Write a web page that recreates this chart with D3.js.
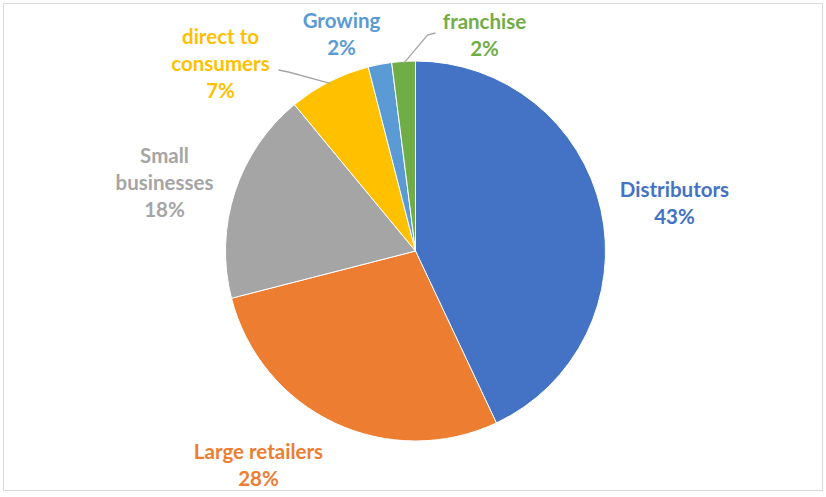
<!DOCTYPE html>
<html>
<head>
<meta charset="utf-8">
<script src="https://cdn.jsdelivr.net/npm/d3@7"></script>
<style>
  html, body { margin: 0; padding: 0; background: #ffffff; }
  svg { display: block; }
  .lbl { font-family: Lato, "Open Sans", sans-serif; font-weight: 700; font-size: 20.5px; }
</style>
</head>
<body>
<svg id="chart" width="826" height="497"></svg>
<script>
// Sales channel shares (percent), clockwise from 12 o'clock
const categories = ["Distributors", "Large retailers", "Small businesses", "direct to consumers", "Growing", "franchise"];
const shares = [43, 28, 18, 7, 2, 2];
const colors = ["#4472C4", "#ED7D31", "#A5A5A5", "#FFC000", "#5B9BD5", "#70AD47"];
// label text broken into lines as shown next to each slice
const labelLines = [
  ["Distributors"],
  ["Large retailers"],
  ["Small", "businesses"],
  ["direct to", "consumers"],
  ["Growing"],
  ["franchise"]
];

const W = 826, H = 497;
const cx = 415.5, cy = 251, R = 190;

const svg = d3.select("#chart");

// outer chart-area frame
svg.append("rect")
  .attr("x", 3.5).attr("y", 3.5)
  .attr("width", W - 7).attr("height", H - 10)
  .attr("fill", "#ffffff")
  .attr("stroke", "#d9d9d9").attr("stroke-width", 1);

const pie = d3.pie().value(d => d).sort(null);
const arcs = pie(shares);
const arc = d3.arc().innerRadius(0).outerRadius(R);

const g = svg.append("g").attr("transform", `translate(${cx},${cy})`);

g.selectAll("path.slice")
  .data(arcs)
  .join("path")
  .attr("class", "slice")
  .attr("d", arc)
  .attr("fill", (d, i) => colors[i])
  .attr("stroke", "#ffffff")
  .attr("stroke-width", 1);

// label anchor offsets (label centre relative to pie centre, in px)
const labelPos = [
  { dx: 259, dy: -61 },   // Distributors
  { dx: -157, dy: 201 },  // Large retailers
  { dx: -251, dy: -95 },  // Small businesses
  { dx: -195, dy: -214 }, // direct to consumers
  { dx: -74, dy: -230 },  // Growing
  { dx: 69, dy: -229 }    // franchise
];
const lineGap = 27;

const labels = svg.append("g");
arcs.forEach((a, i) => {
  const lines = labelLines[i].concat([d3.format(".0f")(a.data) + "%"]);
  const x = cx + labelPos[i].dx;
  const yTop = cy + labelPos[i].dy;
  const t = labels.append("text")
    .attr("class", "lbl")
    .attr("text-anchor", "middle")
    .attr("fill", colors[i]);
  lines.forEach((s, k) => {
    t.append("tspan")
      .attr("x", x)
      .attr("y", yTop + k * lineGap)
      .attr("dy", "0.35em")
      .text(s);
  });
});

// leader lines from the outside labels to the thin slices
function leader(i, pts) {
  const mid = (arcs[i].startAngle + arcs[i].endAngle) / 2;
  const edge = [cx + Math.sin(mid) * (R - 2), cy - Math.cos(mid) * (R - 2)];
  svg.append("path")
    .attr("d", d3.line()(pts.concat([edge])))
    .attr("fill", "none")
    .attr("stroke", "#a6a6a6")
    .attr("stroke-width", 1.3);
}
leader(3, [[cx - 137, cy - 181], [cx - 127, cy - 179]]);
leader(5, [[cx + 20, cy - 218], [cx + 12, cy - 216]]);
</script>
</body>
</html>
